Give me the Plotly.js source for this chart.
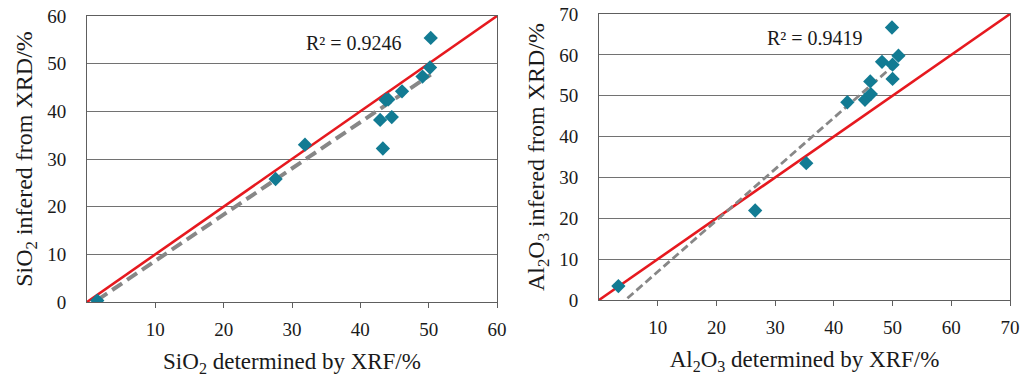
<!DOCTYPE html>
<html>
<head>
<meta charset="utf-8">
<script src="https://cdn.plot.ly/plotly-3.0.1.min.js"></script>
<style>html,body{margin:0;padding:0;background:#fff;}#chart{width:1024px;height:385px;}</style>
</head>
<body>
<div id="chart"></div>
<script>
// SiO2 panel
const sio2XRF = [1.5, 27.6, 31.9, 43.3, 42.9, 44.6, 43.7, 44.1, 46.1, 49.1, 50.2, 50.3];
const sio2XRD = [0.3, 25.8, 33.0, 32.2, 38.2, 38.8, 42.4, 42.5, 44.2, 47.3, 49.2, 55.4];
const sio2TrendX = [1.5, 50.3];
const sio2TrendY = [0.4, 47.7];
const sio2Ident = [0, 60];
const sio2R2 = "R² = 0.9246";

// Al2O3 panel
const al2o3XRF = [3.3, 26.6, 35.3, 42.3, 45.3, 46.3, 46.2, 48.2, 50.0, 50.0, 51.0, 49.9];
const al2o3XRD = [3.4, 21.9, 33.5, 48.4, 49.0, 50.4, 53.5, 58.3, 57.6, 54.1, 59.8, 66.7];
const al2o3TrendX = [3.3, 50.5];
const al2o3TrendY = [-1.5, 57.8];
const al2o3Ident = [0, 70];
const al2o3R2 = "R² = 0.9419";

const ticks60 = [10, 20, 30, 40, 50, 60];
const yticks60 = [0, 10, 20, 30, 40, 50, 60];
const ticks70 = [10, 20, 30, 40, 50, 60, 70];
const yticks70 = [0, 10, 20, 30, 40, 50, 60, 70];

const font = "Liberation Serif, Times New Roman, serif";
const txt = "#1a1a1a";
const markerColor = "#127b93";
const red = "#e6191f";
const gray = "#878787";

const traces = [
  {x: sio2Ident, y: sio2Ident, mode: "lines", line: {color: red, width: 2.6}, xaxis: "x", yaxis: "y"},
  {x: sio2TrendX, y: sio2TrendY, mode: "lines", line: {color: gray, width: 4, dash: "12px,6px"}, xaxis: "x", yaxis: "y"},
  {x: sio2XRF, y: sio2XRD, mode: "markers", marker: {symbol: "diamond", size: 11, color: markerColor}, xaxis: "x", yaxis: "y"},
  {x: al2o3Ident, y: al2o3Ident, mode: "lines", line: {color: red, width: 2.6}, xaxis: "x2", yaxis: "y2"},
  {x: al2o3TrendX, y: al2o3TrendY, mode: "lines", line: {color: gray, width: 2.8, dash: "8px,4px"}, xaxis: "x2", yaxis: "y2"},
  {x: al2o3XRF, y: al2o3XRD, mode: "markers", marker: {symbol: "diamond", size: 11, color: markerColor}, xaxis: "x2", yaxis: "y2"}
];

const axisCommon = {
  showline: true, mirror: true, linecolor: "#5e5e5e", linewidth: 1,
  zeroline: false, tickfont: {family: font, size: 19, color: txt},
  automargin: false, fixedrange: true
};

const layout = {
  width: 1024, height: 385,
  margin: {l: 0, r: 0, t: 0, b: 0},
  paper_bgcolor: "#fff", plot_bgcolor: "#fff",
  showlegend: false,
  font: {family: font, color: txt},
  xaxis: Object.assign({}, axisCommon, {
    domain: [87/1024, 497/1024], range: [0, 60], tickvals: ticks60,
    ticks: "outside", ticklen: 5, tickcolor: "#5e5e5e", showgrid: false,
    ticklabelstandoff: 5, anchor: "y",
    title: {text: "SiO<sub>2</sub> determined by XRF/%", font: {family: font, size: 23, color: txt}, standoff: 14}
  }),
  yaxis: Object.assign({}, axisCommon, {
    domain: [(385-302)/385, (385-16)/385], range: [0, 60], tickvals: yticks60,
    ticks: "", showgrid: true, gridcolor: "#727272", gridwidth: 1,
    ticklabelstandoff: 16, anchor: "x",
    title: {text: "SiO<sub>2</sub> infered from XRD/%", font: {family: font, size: 24, color: txt}, standoff: 7}
  }),
  xaxis2: Object.assign({}, axisCommon, {
    domain: [599/1024, 1010/1024], range: [0, 70], tickvals: ticks70,
    ticks: "outside", ticklen: 5, tickcolor: "#5e5e5e", showgrid: false,
    ticklabelstandoff: 5, anchor: "y2",
    title: {text: "Al<sub>2</sub>O<sub>3</sub> determined by XRF/%", font: {family: font, size: 23, color: txt}, standoff: 14}
  }),
  yaxis2: Object.assign({}, axisCommon, {
    domain: [(385-300)/385, (385-14)/385], range: [0, 70], tickvals: yticks70,
    ticks: "", showgrid: true, gridcolor: "#727272", gridwidth: 1,
    ticklabelstandoff: 16, anchor: "x2",
    title: {text: "Al<sub>2</sub>O<sub>3</sub> infered from XRD/%", font: {family: font, size: 24, color: txt}, standoff: 7}
  }),
  annotations: [
    {x: 39, y: 54.4, xref: "x", yref: "y", text: sio2R2, showarrow: false, font: {family: font, size: 20, color: txt}},
    {x: 36.8, y: 64.1, xref: "x2", yref: "y2", text: al2o3R2, showarrow: false, font: {family: font, size: 20, color: txt}}
  ]
};

Plotly.newPlot("chart", traces, layout, {staticPlot: true, displayModeBar: false});
</script>
</body>
</html>
